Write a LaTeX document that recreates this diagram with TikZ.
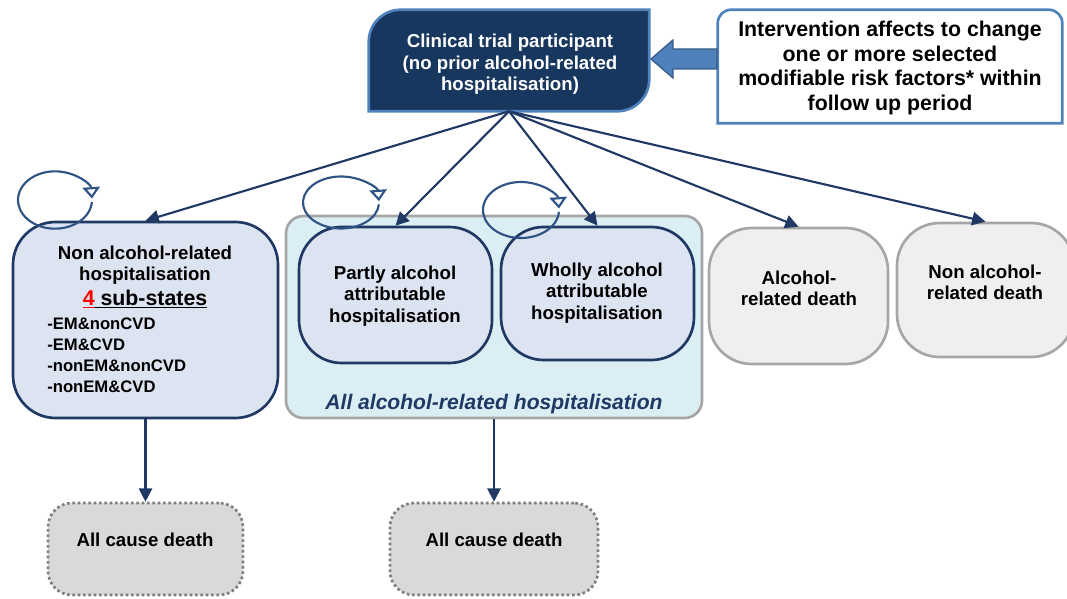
\documentclass[tikz,border=0pt]{standalone}
\usepackage{fontspec}
\setmainfont{Liberation Sans}
\usetikzlibrary{arrows.meta,fit}
\definecolor{navy}{HTML}{1F3864}
\definecolor{topfill}{HTML}{17375E}
\definecolor{midblue}{HTML}{4F81BD}
\definecolor{darkblue}{HTML}{385D8A}
\definecolor{statefill}{HTML}{DCE3F1}
\definecolor{groupfill}{HTML}{DAEEF3}
\definecolor{greyline}{HTML}{A6A6A6}
\definecolor{deathfill}{HTML}{EFEFEF}
\definecolor{allfill}{HTML}{D9D9D9}
\definecolor{dotline}{HTML}{7F7F7F}
\definecolor{loopc}{HTML}{2F5385}
\tikzset{
  conn/.style={draw=navy, line width=1.6pt, -{Triangle[length=10pt,width=10pt]}},
  boxbase/.style={inner sep=0pt, line width=2pt},
  hstate/.style={boxbase, draw=navy, fill=statefill, rounded corners=32pt},
  group/.style={boxbase, draw=greyline, fill=groupfill, rounded corners=13pt},
  dstate/.style={boxbase, draw=greyline, fill=deathfill, rounded corners=32pt},
  allcause/.style={boxbase, draw=dotline, fill=allfill, rounded corners=18pt, dotted, line width=2pt},
  txt/.style={font=\bfseries\fontsize{14}{16}\selectfont, align=center, inner sep=0pt, text=black},
  loopline/.style={draw=loopc, line width=1.6pt, -{Triangle[fill=white,length=8.5pt,width=13pt]}},
}
\begin{document}
\begin{tikzpicture}[x=0.75pt,y=-0.75pt]
\useasboundingbox (0,0) rectangle (1067,599);

% top participant node
\node[inner sep=0pt, fit={(369,10)(649,111)}] (top) {};
\fill[topfill] ([yshift=-24pt]top.north west) arc[start angle=180,end angle=90,radius=24pt]
  -- (top.north east) -- ([yshift=24pt]top.south east) arc[start angle=0,end angle=-90,radius=24pt]
  -- (top.south west) -- cycle;
\draw[midblue, line width=2pt] ([yshift=-24pt]top.north west) arc[start angle=180,end angle=90,radius=24pt]
  -- (top.north east) -- ([yshift=24pt]top.south east) arc[start angle=0,end angle=-90,radius=24pt]
  -- (top.south west) -- cycle;
\node[txt, text=white] (toptxt) at (510,64.5)
  {Clinical trial participant\\(no prior alcohol-related\\hospitalisation)};

% intervention node
\node[inner sep=0pt, fit={(718,10)(1062,123)}] (iv) {};
\draw[midblue, line width=2pt, fill=white] (iv.south west) -- ([yshift=-10pt]iv.north west)
  arc[start angle=180,end angle=90,radius=10pt] -- ([xshift=-10pt]iv.north east)
  arc[start angle=90,end angle=0,radius=10pt] -- (iv.south east) -- cycle;
\node[txt, font=\bfseries\fontsize{16}{18.5}\selectfont] (ivtxt) at (890,68)
  {Intervention affects to change\\one or more selected\\modifiable risk factors* within\\follow up period};

% block arrow
\filldraw[fill=midblue, draw=darkblue, line width=1pt]
  (651,59) -- (673,40) -- (673,49) -- (717,49) -- (717,69) -- (673,69) -- (673,78) -- cycle;

% states
\node[hstate, fit={(13,222)(278,418)}] (nah) {};
\node[group, fit={(286,216)(702,418)}] (grp) {};
\node[hstate, fit={(299,227)(492,363)}] (partly) {};
\node[hstate, fit={(501,227)(694,360)}] (wholly) {};
\node[dstate, fit={(709,228)(888,364)}] (ad) {};
\node[dstate, fit={(897,223)(1074,357)}] (nad) {};
\node[allcause, fit={(48,503)(243,595)}] (acd1) {};
\node[allcause, fit={(390,503)(598,595)}] (acd2) {};

% texts
\node[txt] (nahtxt) at (145,265.5) {Non alcohol-related\\hospitalisation};
\node[txt, font=\bfseries\fontsize{16}{18}\selectfont] (nahsub) at (145,299)
  {\textcolor{red}{\underline{4}}\underline{\ sub-states}};
\node[txt, font=\bfseries\fontsize{12.5}{15.75}\selectfont, align=left, anchor=west] (nahlist) at (47,355)
  {-EM\&nonCVD\\-EM\&CVD\\-nonEM\&nonCVD\\-nonEM\&CVD};
\node[txt] (partlytxt) at (395,296) {Partly alcohol\\attributable\\hospitalisation};
\node[txt] (whollytxt) at (597,293) {Wholly alcohol\\attributable\\hospitalisation};
\node[txt] (adtxt) at (799,288) {Alcohol-\\related death};
\node[txt] (nadtxt) at (985,282) {Non alcohol-\\related death};
\node[txt, font=\bfseries\itshape\fontsize{15.8}{18}\selectfont, text=navy] (grptxt) at (494,404)
  {All alcohol-related hospitalisation};
\node[txt] (acd1txt) at (145,540) {All cause death};
\node[txt] (acd2txt) at (494,540) {All cause death};

% connectors
\draw[conn] (top.south) -- (nah.north);
\draw[conn] (top.south) -- (partly.north);
\draw[conn] (top.south) -- (wholly.north);
\draw[conn] (top.south) -- (ad.north);
\draw[conn] (top.south) -- (nad.north);
\draw[conn] (nah.south) -- (acd1.north);
\draw[conn] (grp.south) -- (acd2.north);

% self loops
\coordinate (l1) at (55,200);
\coordinate (l2) at (341,202.5);
\coordinate (l3) at (521,210);
\draw[loopline] ([shift={(-4:27.75pt and 21.5pt)}]l1) arc[start angle=-4,end angle=-357,x radius=27.75pt,y radius=21.5pt];
\draw[loopline] ([shift={(-4:28.5pt and 19.5pt)}]l2) arc[start angle=-4,end angle=-357,x radius=28.5pt,y radius=19.5pt];
\draw[loopline] ([shift={(-4:28.5pt and 21pt)}]l3) arc[start angle=-4,end angle=-357,x radius=28.5pt,y radius=21pt];
\end{tikzpicture}
\end{document}
